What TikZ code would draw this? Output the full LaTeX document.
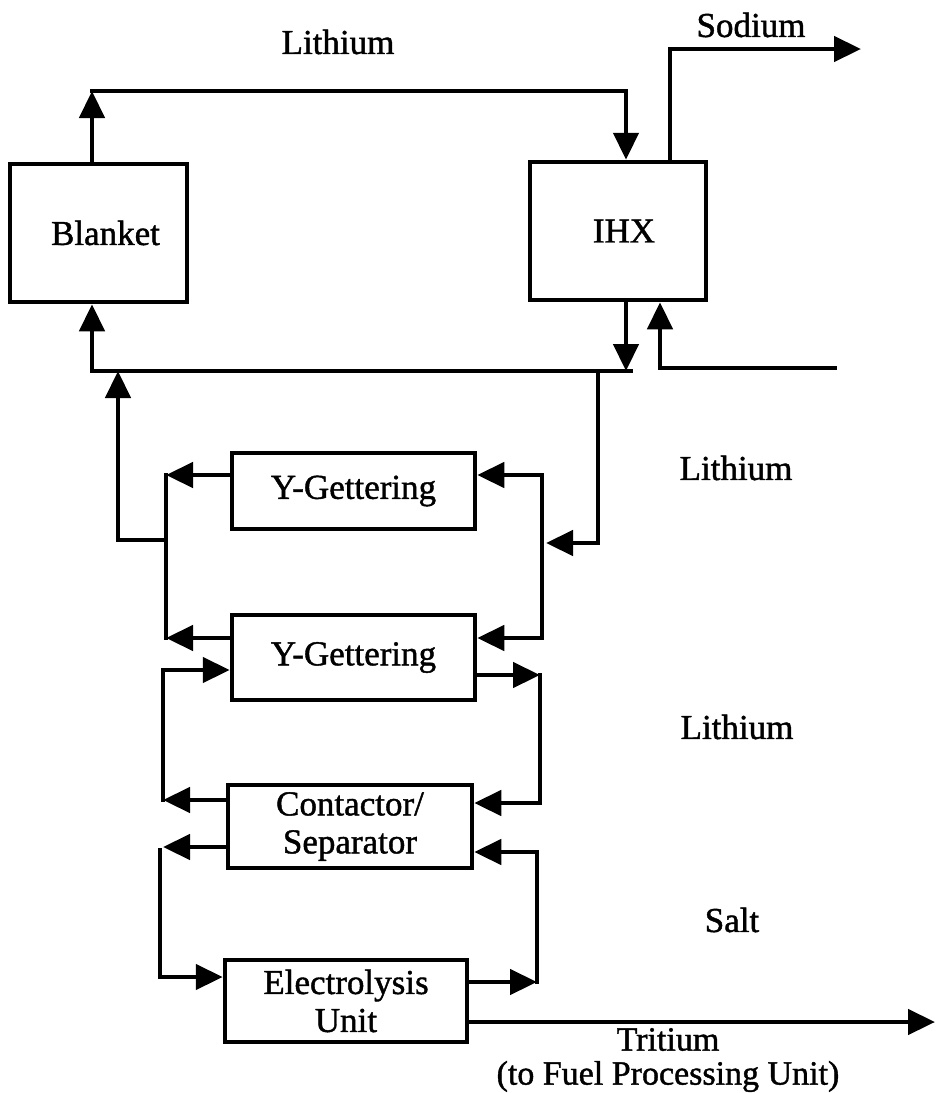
\documentclass[tikz,border=0pt]{standalone}
\usepackage{fontspec}
\setmainfont{Liberation Serif}[FakeBold=1.2]
\usetikzlibrary{arrows.meta}
\begin{document}
\begin{tikzpicture}[x=1pt,y=-1pt,
  line width=4.5pt, line cap=rect, line join=miter,
  arr/.style={-{Triangle[length=27pt,width=25pt]}},
  unit/.style={draw, line width=4.5pt, inner sep=0pt, align=center, font=\fontsize{35}{38}\selectfont},
  lbl/.style={inner sep=0pt, align=center, font=\fontsize{35}{34}\selectfont}]
\useasboundingbox[fill=white] (0,0) rectangle (936,1093);
% units
\node[unit, minimum width=177pt, minimum height=138pt] (blanket) at (98.5,233) {\hspace*{14pt}Blanket};
\node[unit, minimum width=176pt, minimum height=138pt] (ihx) at (618,231) {\hspace*{12pt}IHX};
\node[unit, minimum width=243pt, minimum height=76pt] (yg1) at (353.5,491) {Y-Gettering};
\node[unit, minimum width=243pt, minimum height=85pt] (yg2) at (353.5,657.5) {\raisebox{-5pt}{Y-Gettering}};
\node[unit, minimum width=244pt, minimum height=83pt] (cs) at (350,826.5) {Contactor/\\Separator};
\node[unit, minimum width=242pt, minimum height=82pt] (el) at (346,1001) {Electrolysis\\Unit};
% labels
\node[lbl] (lLi1) at (338,42) {Lithium};
\node[lbl] (lNa) at (751,25) {Sodium};
\node[lbl] (lLi2) at (736,468) {Lithium};
\node[lbl] (lLi3) at (737,727) {Lithium};
\node[lbl] (lSalt) at (732,920) {Salt};
\node[lbl, font=\fontsize{34}{34}\selectfont] (lT) at (668,1060) {Tritium\\(to Fuel Processing Unit)};
% coordinates
\coordinate (bt) at (92,91);
\coordinate (it) at (626,91);
\coordinate (so) at (670,49);
\coordinate (se) at (861,49);
\coordinate (io) at (626,371);
\coordinate (ioe) at (631,371);
\coordinate (bb) at (92,371);
\coordinate (ii) at (660,368);
\coordinate (ie) at (835,368);
\coordinate (r1) at (118,540);
\coordinate (r2) at (166,540);
\coordinate (l1) at (166,475);
\coordinate (l2) at (166,638);
\coordinate (r3) at (542,475);
\coordinate (r4) at (542,638);
\coordinate (f1) at (598,371);
\coordinate (f2) at (598,543);
\coordinate (f3) at (546,543);
\coordinate (a1) at (163,670);
\coordinate (a2) at (163,800);
\coordinate (b1) at (540,675);
\coordinate (b2) at (540,803);
\coordinate (c1) at (163,847);
\coordinate (d1) at (160,850);
\coordinate (d2) at (160,977);
\coordinate (e1) at (537,852);
\coordinate (e2) at (537,982);
\coordinate (t1) at (935,1022);
% lithium loop
\draw[arr] (bt |- blanket.north) -- (bt);
\draw[arr] (bt) -- (it) -- (it |- ihx.north);
\draw[arr] (so |- ihx.north) -- (so) -- (se);
\draw[arr] (io |- ihx.south) -- (io);
\draw (ioe) -- (bb);
\draw[arr] (bb) -- (bb |- blanket.south);
\draw[arr] (ie) -- (ii) -- (ii |- ihx.south);
% cleanup branch
\draw[arr] (f1) -- (f2) -- (f3);
\draw (r3) -- (r4);
\draw[arr] (r3) -- (yg1.east |- r3);
\draw[arr] (r4) -- (yg2.east |- r4);
\draw (l1) -- (l2);
\draw[arr] (yg1.west |- l1) -- (l1);
\draw[arr] (yg2.west |- l2) -- (l2);
\draw[arr] (r2) -- (r1) -- (r1 |- bb);
% contactor loops
\draw[arr] (a2) -- (a1) -- (yg2.west |- a1);
\draw[arr] (cs.west |- a2) -- (a2);
\draw[arr] (yg2.east |- b1) -- (b1);
\draw[arr] (b1) -- (b2) -- (cs.east |- b2);
\draw[arr] (cs.west |- c1) -- (c1);
\draw[arr] (d1) -- (d2) -- (el.west |- d2);
\draw[arr] (el.east |- e2) -- (e2);
\draw[arr] (e2) -- (e1) -- (cs.east |- e1);
\draw[arr] (el.east |- t1) -- (t1);
\end{tikzpicture}
\end{document}
